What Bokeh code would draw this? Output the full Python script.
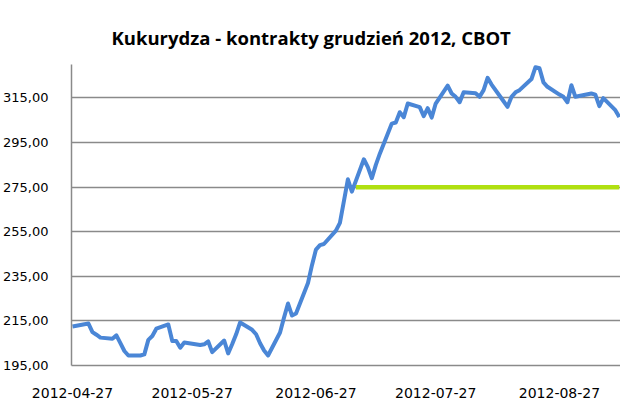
import pandas as pd
from bokeh.plotting import figure
from bokeh.models import Range1d, FixedTicker, DatetimeTickFormatter
from bokeh.embed import file_html
from bokeh.resources import INLINE

# ---- data ----
dates = [
    "2012-04-27", "2012-04-30", "2012-05-01", "2012-05-02", "2012-05-03", "2012-05-04",
    "2012-05-07", "2012-05-08", "2012-05-09", "2012-05-10", "2012-05-11",
    "2012-05-14", "2012-05-15", "2012-05-16", "2012-05-17", "2012-05-18",
    "2012-05-21", "2012-05-22", "2012-05-23", "2012-05-24", "2012-05-25",
    "2012-05-29", "2012-05-30", "2012-05-31", "2012-06-01",
    "2012-06-04", "2012-06-05", "2012-06-06", "2012-06-07", "2012-06-08",
    "2012-06-11", "2012-06-12", "2012-06-13", "2012-06-14", "2012-06-15",
    "2012-06-18", "2012-06-19", "2012-06-20", "2012-06-21", "2012-06-22",
    "2012-06-25", "2012-06-26", "2012-06-27", "2012-06-28", "2012-06-29",
    "2012-07-02", "2012-07-03", "2012-07-05", "2012-07-06",
    "2012-07-09", "2012-07-10", "2012-07-11", "2012-07-12", "2012-07-13",
    "2012-07-16", "2012-07-17", "2012-07-18", "2012-07-19", "2012-07-20",
    "2012-07-23", "2012-07-24", "2012-07-25", "2012-07-26", "2012-07-27",
    "2012-07-30", "2012-07-31", "2012-08-01", "2012-08-02", "2012-08-03",
    "2012-08-06", "2012-08-07", "2012-08-08", "2012-08-09", "2012-08-10",
    "2012-08-13", "2012-08-14", "2012-08-15", "2012-08-16", "2012-08-17",
    "2012-08-20", "2012-08-21", "2012-08-22", "2012-08-23", "2012-08-24",
    "2012-08-27", "2012-08-28", "2012-08-29", "2012-08-30", "2012-08-31",
    "2012-09-04", "2012-09-05", "2012-09-06", "2012-09-07",
    "2012-09-10", "2012-09-11",
]
prices = [
    212.5, 213.5, 213.8, 210.0, 208.8, 207.5,
    207.0, 208.5, 205.0, 201.5, 199.5,
    199.5, 200.0, 206.5, 208.2, 211.5,
    213.4, 206.0, 206.0, 203.0, 205.3,
    204.2, 204.5, 205.8, 201.0,
    206.2, 200.4, 204.5, 209.0, 214.3,
    211.0, 209.0, 205.0, 201.7, 199.5,
    209.8, 216.5, 222.8, 217.4, 218.3,
    232.0, 240.0, 247.0, 249.0, 249.5,
    255.5, 259.0, 278.5, 273.0,
    287.5, 284.0, 279.0, 285.0, 290.0,
    303.5, 304.0, 308.6, 306.4, 312.5,
    310.9, 306.8, 310.4, 306.2, 312.5,
    320.5, 317.0, 315.5, 313.1, 317.6,
    317.1, 315.5, 318.5, 324.0, 321.0,
    313.5, 311.0, 315.5, 317.5, 318.5,
    323.5, 328.8, 328.3, 322.0, 320.0,
    316.5, 315.5, 313.1, 320.7, 315.5,
    317.0, 316.5, 311.3, 314.9,
    309.5, 306.4,
]
ref_dates = ["2012-07-07", "2012-09-11"]
ref_values = [275.0, 275.0]

x_tick_dates = ["2012-04-27", "2012-05-27", "2012-06-27", "2012-07-27", "2012-08-27"]
y_ticks = [195, 215, 235, 255, 275, 295, 315]
y_tick_labels = ["195,00", "215,00", "235,00", "255,00", "275,00", "295,00", "315,00"]

title_text = "Kukurydza - kontrakty grudzień 2012, CBOT"

# ---- figure ----
x = pd.to_datetime(dates)
xr = pd.to_datetime(ref_dates)
start = pd.Timestamp("2012-04-27") - pd.Timedelta(hours=6)
end = pd.Timestamp("2012-04-27") + pd.Timedelta(days=137.3)

p = figure(width=620, height=413, x_axis_type="datetime",
           x_range=Range1d(start, end), y_range=Range1d(195, 330),
           output_backend="svg", toolbar_location=None,
           min_border_left=67, min_border_right=0,
           min_border_top=64, min_border_bottom=48)

p.title.text = title_text
p.title.align = "left"
p.title.offset = 40
p.title.standoff = 30
p.title.text_font = "Open Sans"
p.title.text_font_style = "bold"
p.title.text_font_size = "18.5px"
p.title.text_color = "#000000"

p.line(x, prices, line_color="#4a86d6", line_width=4, line_join="round")
p.line(xr, ref_values, line_color="#b0e010", line_width=4.5)

tick_ms = [pd.Timestamp(d).value / 1e6 for d in x_tick_dates]
p.xaxis.ticker = FixedTicker(ticks=tick_ms)
fmt = "%Y-%m-%d"
p.xaxis.formatter = DatetimeTickFormatter(days=fmt, months=fmt, years=fmt, hours=fmt,
                                          minutes=fmt, seconds=fmt, milliseconds=fmt,
                                          minsec=fmt, hourmin=fmt)
p.yaxis.ticker = FixedTicker(ticks=y_ticks)
p.yaxis.major_label_overrides = {t: l for t, l in zip(y_ticks, y_tick_labels)}

for ax in (p.xaxis, p.yaxis):
    ax.major_tick_line_color = None
    ax.minor_tick_line_color = None
    ax.axis_line_color = "#8a8a8a"
    ax.axis_line_width = 1.5
    ax.major_label_text_font = "DejaVu Sans"
    ax.major_label_text_color = "#000000"
p.xaxis.major_label_text_font_size = "14px"
p.yaxis.major_label_text_font_size = "13px"
p.xaxis.major_label_standoff = 16
p.yaxis.major_label_standoff = 17

p.xgrid.grid_line_color = None
p.ygrid.grid_line_color = "#8a8a8a"
p.ygrid.grid_line_width = 1.5
p.outline_line_color = None
p.background_fill_color = "white"
p.border_fill_color = "white"

open("out.html", "w").write(file_html(p, INLINE))
